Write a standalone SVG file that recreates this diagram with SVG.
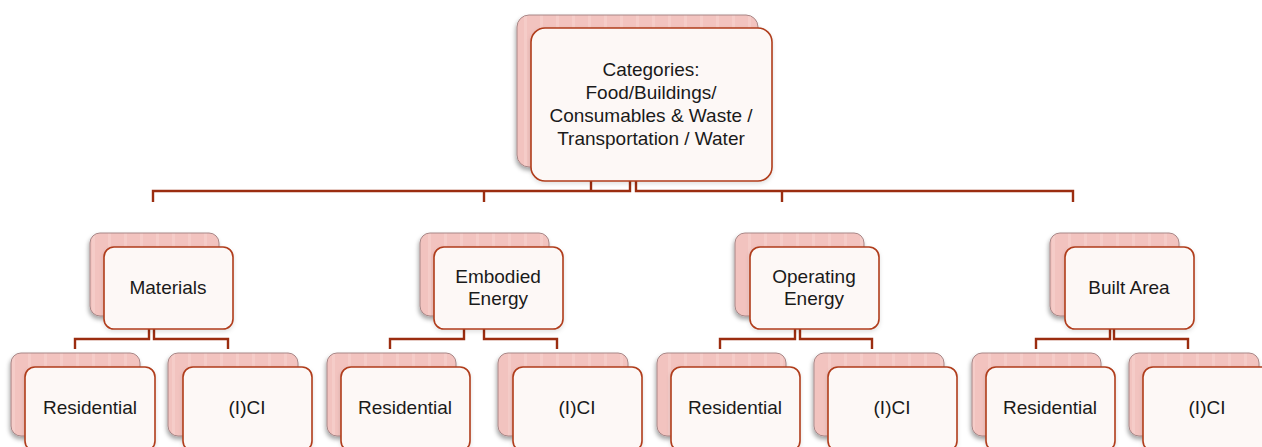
<svg xmlns="http://www.w3.org/2000/svg" width="1262" height="447" viewBox="0 0 1262 447">
<style>
.back{fill:url(#stripes);stroke:#a88686;stroke-width:1;filter:url(#sh)}
.front{fill:#fdf8f6;stroke:#b03d1c;stroke-width:1.6;filter:url(#sh2)}
.lbl{font-family:"Liberation Sans",Arial,sans-serif;font-size:19px;fill:#1a1a1a;text-anchor:middle}
.con{fill:none;stroke:#9b2d10;stroke-width:2.4}
</style>
<defs>
<pattern id="stripes" width="16" height="20" patternUnits="userSpaceOnUse">
<rect width="16" height="20" fill="#f2c3bf"/>
<rect x="12" width="3" height="20" fill="#f5ccc8"/>
</pattern>
<filter id="sh" x="-20%" y="-20%" width="140%" height="150%">
<feDropShadow dx="-1" dy="3" stdDeviation="2" flood-color="#000" flood-opacity="0.35"/>
</filter>
<filter id="sh2" x="-20%" y="-20%" width="140%" height="150%">
<feDropShadow dx="0" dy="2" stdDeviation="2" flood-color="#000" flood-opacity="0.12"/>
</filter>
</defs>
<rect width="1262" height="447" fill="#fff"/>

<g id="connectors">
<path class="con" d="M153,202 V191 H630 V181"/>
<path class="con" d="M591,181 V191"/>
<path class="con" d="M636,181 V191 H1073 V202"/>
<path class="con" d="M484,191 V202"/>
<path class="con" d="M782,191 V202"/>
<path class="con" d="M149,329 V339 H75 V349"/>
<path class="con" d="M154,329 V339 H228 V349"/>
<path class="con" d="M464,329 V339 H390 V349"/>
<path class="con" d="M484,329 V339 H557 V349"/>
<path class="con" d="M795,329 V339 H720 V349"/>
<path class="con" d="M800,329 V339 H872 V349"/>
<path class="con" d="M1110,329 V339 H1036 V349"/>
<path class="con" d="M1114,329 V339 H1188 V349"/>
</g>

<g id="top">
<rect class="back" x="517" y="15" width="241" height="152" rx="12"/>
<rect class="front" x="531" y="28" width="241" height="153" rx="14"/>
<text class="lbl" x="651" y="76">Categories:</text>
<text class="lbl" x="651" y="99">Food/Buildings/</text>
<text class="lbl" x="651" y="122">Consumables &amp; Waste /</text>
<text class="lbl" x="651" y="145">Transportation / Water</text>
</g>

<g id="materials">
<rect class="back" x="90" y="233" width="129" height="83" rx="10"/>
<rect class="front" x="104" y="247" width="129" height="82" rx="10"/>
<text class="lbl" x="168" y="294">Materials</text>
</g>
<g id="embodied">
<rect class="back" x="420" y="233" width="129" height="83" rx="10"/>
<rect class="front" x="434" y="247" width="129" height="82" rx="10"/>
<text class="lbl" x="498" y="283">Embodied</text>
<text class="lbl" x="498" y="305">Energy</text>
</g>
<g id="operating">
<rect class="back" x="735" y="233" width="129" height="83" rx="10"/>
<rect class="front" x="750" y="247" width="129" height="82" rx="10"/>
<text class="lbl" x="814" y="283">Operating</text>
<text class="lbl" x="814" y="305">Energy</text>
</g>
<g id="builtarea">
<rect class="back" x="1050" y="233" width="129" height="83" rx="10"/>
<rect class="front" x="1065" y="247" width="129" height="82" rx="10"/>
<text class="lbl" x="1129" y="294">Built Area</text>
</g>

<g id="res1">
<rect class="back" x="11" y="353" width="129" height="83" rx="10"/>
<rect class="front" x="25" y="367" width="130" height="84" rx="10"/>
<text class="lbl" x="90" y="414">Residential</text>
</g>
<g id="ici1">
<rect class="back" x="168" y="353" width="130" height="83" rx="10"/>
<rect class="front" x="183" y="367" width="129" height="84" rx="10"/>
<text class="lbl" x="247" y="414">(I)CI</text>
</g>
<g id="res2">
<rect class="back" x="327" y="353" width="129" height="83" rx="10"/>
<rect class="front" x="341" y="367" width="129" height="84" rx="10"/>
<text class="lbl" x="405" y="414">Residential</text>
</g>
<g id="ici2">
<rect class="back" x="498" y="353" width="130" height="83" rx="10"/>
<rect class="front" x="513" y="367" width="129" height="84" rx="10"/>
<text class="lbl" x="577" y="414">(I)CI</text>
</g>
<g id="res3">
<rect class="back" x="657" y="353" width="129" height="83" rx="10"/>
<rect class="front" x="671" y="367" width="129" height="84" rx="10"/>
<text class="lbl" x="735" y="414">Residential</text>
</g>
<g id="ici3">
<rect class="back" x="814" y="353" width="130" height="83" rx="10"/>
<rect class="front" x="828" y="367" width="129" height="84" rx="10"/>
<text class="lbl" x="892" y="414">(I)CI</text>
</g>
<g id="res4">
<rect class="back" x="972" y="353" width="129" height="83" rx="10"/>
<rect class="front" x="986" y="367" width="129" height="84" rx="10"/>
<text class="lbl" x="1050" y="414">Residential</text>
</g>
<g id="ici4">
<rect class="back" x="1129" y="353" width="130" height="83" rx="10"/>
<rect class="front" x="1143" y="367" width="129" height="84" rx="10"/>
<text class="lbl" x="1207" y="414">(I)CI</text>
</g>
</svg>
